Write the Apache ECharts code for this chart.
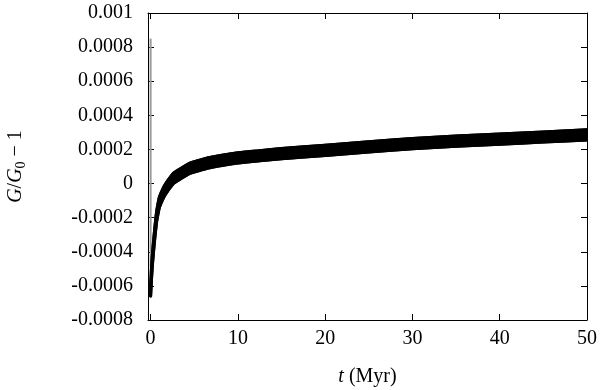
<!DOCTYPE html>
<html><head><meta charset="utf-8">
<script src="https://cdn.jsdelivr.net/npm/echarts@6/dist/echarts.min.js"></script>
<style>html,body{margin:0;padding:0;background:#fff}#c{width:600px;height:390px}</style>
</head><body><div id="c"></div>
<script>
// time (Myr)
var tValues = [0, 0.1, 0.2, 0.35, 0.5, 0.7, 1, 1.5, 2, 2.6, 3.5, 4.5, 5.5, 6.5, 8, 10, 12.5, 15, 20, 25, 30, 35, 40, 45, 50];
// lower and upper edges of the oscillating band of G/G0 - 1
var lowerValues = [-0.00066, -0.00056, -0.00048, -0.00039, -0.00031, -0.00022, -0.00014, -0.00008, -0.00004, 0.0, 0.00003, 0.00006, 0.000075, 0.00009, 0.000105, 0.00012, 0.000133, 0.000145, 0.000165, 0.000185, 0.000204, 0.000219, 0.000231, 0.000243, 0.000255];
var upperValues = [-0.00060, -0.00050, -0.00042, -0.00033, -0.00025, -0.00016, -0.00008, -0.00002, 0.00002, 0.00006, 0.00009, 0.00012, 0.000135, 0.00015, 0.000165, 0.00018, 0.000193, 0.000205, 0.000225, 0.000245, 0.000264, 0.000279, 0.000291, 0.000303, 0.000315];
// grey spike at the start
var spikeT = [0, 0];
var spikeValues = [-0.00063, 0.00085];
var xTicks = [0, 10, 20, 30, 40, 50];
var yTicks = [-0.0008, -0.0006, -0.0004, -0.0002, 0, 0.0002, 0.0004, 0.0006, 0.0008, 0.001];

var bandData = tValues.map(function (t, i) { return [t, lowerValues[i], upperValues[i]]; });
var spike = spikeT.map(function (t, i) { return [t, spikeValues[i]]; });

var font = 'Liberation Serif';
function fmtY(v) { return String(Number(v.toPrecision(3))); }

function renderBand(params, api) {
  if (params.dataIndex !== 0) return null;
  var top = [], bottom = [];
  for (var i = 0; i < bandData.length; i++) {
    top.push(api.coord([bandData[i][0], bandData[i][2]]));
    bottom.push(api.coord([bandData[i][0], bandData[i][1]]));
  }
  var edgeStyle = {fill: null, stroke: '#000', lineWidth: 3, lineCap: 'round', lineJoin: 'round'};
  var pts = top.concat(bottom.slice().reverse());
  return {
    type: 'group',
    children: [
      {type: 'polygon', shape: {points: pts}, style: {fill: '#000', stroke: '#000', lineWidth: 3, lineJoin: 'round'}},
      {type: 'polyline', shape: {points: top, smooth: 0.3}, style: edgeStyle},
      {type: 'polyline', shape: {points: bottom, smooth: 0.3}, style: edgeStyle}
    ]
  };
}

var chart = echarts.init(document.getElementById('c'), null, {renderer: 'canvas'});
var baseX = {
  type: 'value', min: -0.3, max: 50,
  axisLine: {show: true, onZero: false, lineStyle: {color: '#000', width: 1}},
  axisTick: {show: true, inside: true, length: 6, customValues: xTicks, lineStyle: {color: '#000'}},
  splitLine: {show: false}
};
var baseY = {
  type: 'value', min: -0.0008, max: 0.001, interval: 0.0002,
  axisLine: {show: true, onZero: false, lineStyle: {color: '#000', width: 1}},
  axisTick: {show: true, inside: true, length: 6, customValues: yTicks, lineStyle: {color: '#000'}},
  splitLine: {show: false}
};
chart.setOption({
  animation: false,
  backgroundColor: '#fff',
  grid: {left: 148, right: 13, top: 13, bottom: 70, show: false, containLabel: false, outerBoundsMode: 'none'},
  xAxis: [
    Object.assign({}, baseX, {
      position: 'bottom',
      axisLabel: {show: true, customValues: xTicks, margin: 9, color: '#000', fontFamily: font, fontSize: 20},
      name: '{i|t} (Myr)', nameLocation: 'middle', nameGap: 47,
      nameTextStyle: {color: '#000', fontFamily: font, fontSize: 20, rich: {i: {fontStyle: 'italic', fontFamily: font, fontSize: 20, color: '#000'}}}
    }),
    Object.assign({}, baseX, {position: 'top', axisLabel: {show: false}})
  ],
  yAxis: [
    Object.assign({}, baseY, {
      position: 'left',
      axisLabel: {show: true, customValues: yTicks, margin: 15, color: '#000', fontFamily: font, fontSize: 20, formatter: fmtY},
      name: '{i|G}/{i|G}{s|0} − 1', nameLocation: 'middle', nameGap: 120, nameRotate: 90,
      nameTextStyle: {color: '#000', fontFamily: font, fontSize: 20,
        rich: {i: {fontStyle: 'italic', fontFamily: font, fontSize: 20, color: '#000', lineHeight: 24},
               s: {fontFamily: font, fontSize: 14, color: '#000', verticalAlign: 'bottom', lineHeight: 24, padding: [8, 0, 0, 0]}}}
    }),
    Object.assign({}, baseY, {position: 'right', axisLabel: {show: false}})
  ],
  series: [
    {type: 'line', data: spike, showSymbol: false, lineStyle: {color: '#9a9a9a', width: 2}, z: 1},
    {type: 'custom', data: bandData, encode: {x: 0, y: [1, 2]}, renderItem: renderBand, clip: true, z: 3}
  ]
});
</script></body></html>
